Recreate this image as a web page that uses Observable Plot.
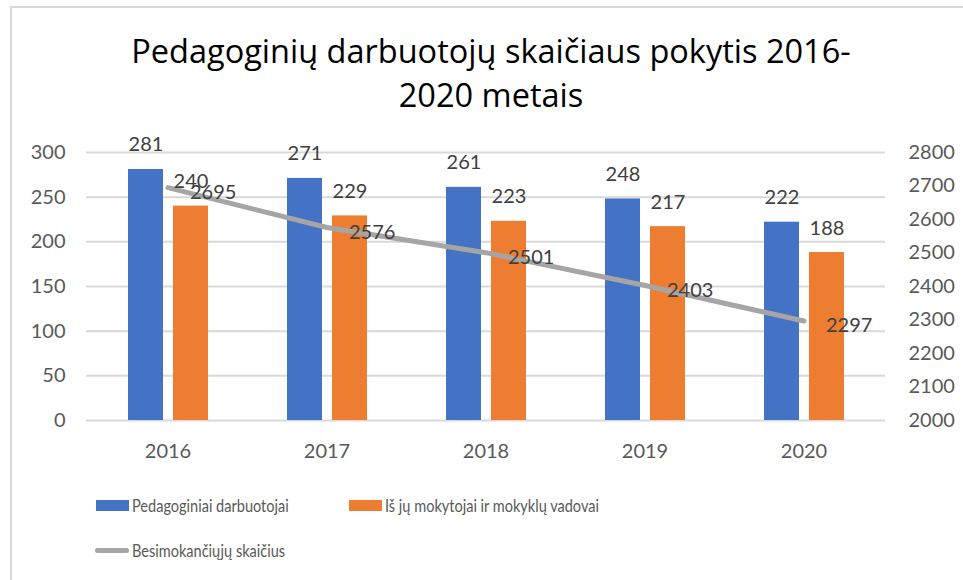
<!DOCTYPE html>
<html><head><meta charset="utf-8">
<script src="https://cdn.jsdelivr.net/npm/d3@7"></script>
<script src="https://cdn.jsdelivr.net/npm/@observablehq/plot@0.6"></script>
<style>
body{margin:0;background:#fff;}
#wrap{position:relative;width:963px;height:580px;overflow:hidden;font-family:Lato,sans-serif;background:#fff;}
#frame{position:absolute;left:10px;top:6px;right:-5px;bottom:-5px;border-left:2px solid #D9D9D9;border-top:2px solid #D9D9D9;}
#title{position:absolute;left:0;width:982px;top:28.5px;text-align:center;font-family:"Open Sans",sans-serif;font-size:32.5px;line-height:44px;color:#000;white-space:nowrap;}
#chart{position:absolute;left:0;top:125px;}
.leg{position:absolute;font-size:17px;color:#595959;display:flex;align-items:center;height:24px;white-space:nowrap;}
.sw{display:inline-block;width:33px;height:11px;margin-right:3px;}
.ln{display:inline-block;width:34px;height:5px;border-radius:3px;background:#A5A5A5;margin-right:3px;}
.tx{display:inline-block;transform:scaleX(0.855);transform-origin:left center;}
</style></head>
<body>
<div id="wrap">
  <div id="frame"></div>
  <div id="title">Pedagoginių darbuotojų skaičiaus pokytis 2016-<br>2020 metais</div>
  <div id="chart"></div>
  <div class="leg" style="left:96px;top:493px;"><span class="sw" style="background:#4472C4"></span><span class="tx" id="l1"></span></div>
  <div class="leg" style="left:349px;top:493px;"><span class="sw" style="background:#ED7D31"></span><span class="tx" id="l2"></span></div>
  <div class="leg" style="left:95px;top:538px;"><span class="ln"></span><span class="tx" id="l3"></span></div>
</div>
<script>
const years = ["2016", "2017", "2018", "2019", "2020"];
const pedagoginiai = [281, 271, 261, 248, 222];
const mokytojai = [240, 229, 223, 217, 188];
const besimokantys = [2695, 2576, 2501, 2403, 2297];
const seriesNames = ["Pedagoginiai darbuotojai", "Iš jų mokytojai ir mokyklų vadovai", "Besimokančiųjų skaičius"];
const leftTicks = [0, 50, 100, 150, 200, 250, 300];
const rightTicks = [2000, 2100, 2200, 2300, 2400, 2500, 2600, 2700, 2800];

document.getElementById("l1").textContent = seriesNames[0];
document.getElementById("l2").textContent = seriesNames[1];
document.getElementById("l3").textContent = seriesNames[2];

const rightMin = rightTicks[0], rightMax = rightTicks[rightTicks.length - 1];
const leftMax = leftTicks[leftTicks.length - 1];
const toLeft = v => (v - rightMin) * leftMax / (rightMax - rightMin);
const fromLeft = v => String(Math.round(v * (rightMax - rightMin) / leftMax + rightMin));

const dataA = years.map((y, i) => ({year: y, value: pedagoginiai[i]}));
const dataB = years.map((y, i) => ({year: y, value: mokytojai[i]}));
const dataL = years.map((y, i) => ({year: y, value: besimokantys[i]}));

const chart = Plot.plot({
  width: 963, height: 340,
  marginTop: 27, marginBottom: 45, marginLeft: 86, marginRight: 78,
  style: {fontFamily: "Lato, sans-serif", fontSize: "20px", color: "#595959", background: "transparent"},
  x: {domain: years, padding: 0, axis: null},
  y: {domain: [0, leftMax], axis: null},
  marks: [
    Plot.gridY(leftTicks, {stroke: "#D9D9D9", strokeOpacity: 1, strokeWidth: 2}),
    Plot.axisY(leftTicks, {anchor: "left", tickSize: 0, tickPadding: 21, fill: "#595959", label: null}),
    Plot.axisY(rightTicks.map(toLeft), {anchor: "right", tickSize: 0, tickPadding: 23, tickFormat: fromLeft, fill: "#595959", label: null}),
    Plot.axisX(years, {anchor: "bottom", tickSize: 0, tickPadding: 23, fill: "#595959", label: null}),
    Plot.barY(dataA, {x: "year", y: "value", fill: "#4472C4", insetLeft: 40, insetRight: 84}),
    Plot.barY(dataB, {x: "year", y: "value", fill: "#ED7D31", insetLeft: 85, insetRight: 39}),
    Plot.line(dataL, {x: "year", y: d => toLeft(d.value), stroke: "#A5A5A5", strokeWidth: 5, strokeLinecap: "round"}),
    Plot.text(dataA, {x: "year", y: "value", text: d => String(d.value), dx: -22, dy: -18, lineAnchor: "bottom", fill: "#404040"}),
    Plot.text(dataB, {x: "year", y: "value", text: d => String(d.value), dx: 23, dy: -18, lineAnchor: "bottom", fill: "#404040"}),
    Plot.text(dataL, {x: "year", y: d => toLeft(d.value), text: d => String(d.value), dx: 22, dy: 5, textAnchor: "start", lineAnchor: "middle", fill: "#404040"})
  ]
});
document.getElementById("chart").appendChild(chart);
</script>
</body></html>
